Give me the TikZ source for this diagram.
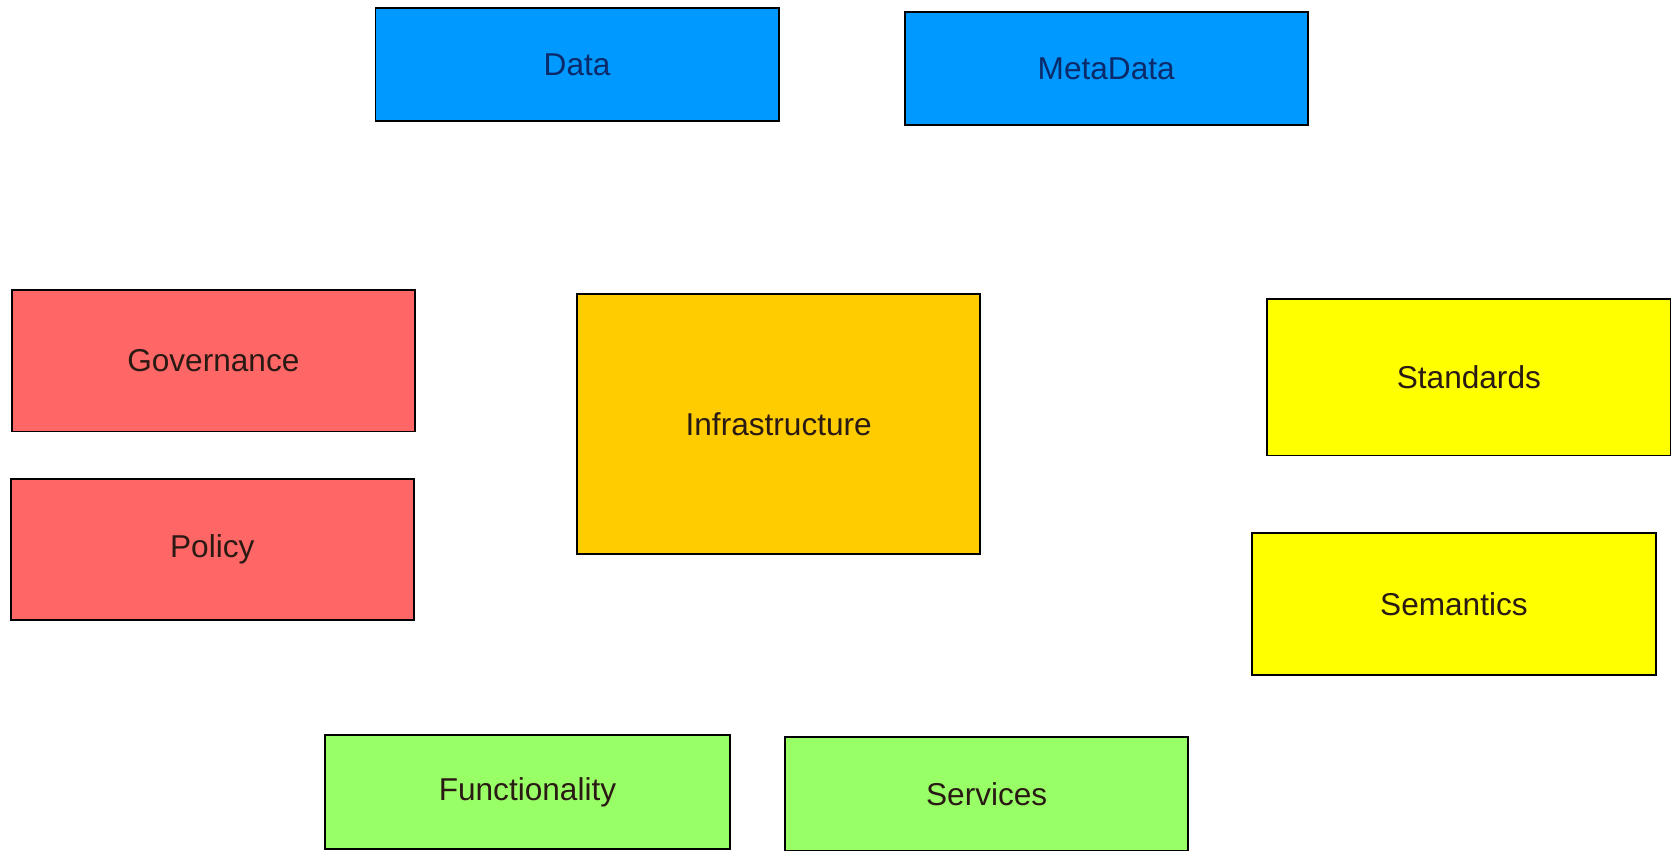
\documentclass[tikz,border=0pt]{standalone}
\usepackage{fontspec}
\setmainfont{Liberation Sans}
\definecolor{cblue}{HTML}{0099FF}
\definecolor{cred}{HTML}{FF6666}
\definecolor{corange}{HTML}{FFCC00}
\definecolor{cyellow}{HTML}{FFFF00}
\definecolor{cgreen}{HTML}{99FF66}
\definecolor{tdark}{HTML}{2A1A14}
\definecolor{tnavy}{HTML}{0A2A6A}
\tikzset{
  box/.style={draw=black, line width=0.96pt, rectangle, inner sep=0pt,
    minimum width=201.6pt, font=\fontsize{15.8}{18}\selectfont, text=tdark},
  bluebox/.style={box, fill=cblue, minimum height=56.5pt, text=tnavy},
  redbox/.style={box, fill=cred},
  orangebox/.style={box, fill=corange},
  yellowbox/.style={box, fill=cyellow},
  greenbox/.style={box, fill=cgreen, minimum height=57.1pt},
}
\begin{document}
\begin{tikzpicture}[x=0.53333pt, y=-0.53333pt]
\useasboundingbox (0,0) rectangle (1566.5,796.9);
\node[bluebox] (data) at (541,60.5) {Data};
\node[bluebox] (meta) at (1037,64.5) {MetaData};
\node[redbox, minimum height=70.9pt] (gov) at (200,338) {Governance};
\node[redbox, minimum height=70.4pt] (pol) at (199,515) {Policy};
\node[orangebox, minimum height=129.6pt] (infra) at (730,397.5) {Infrastructure};
\node[yellowbox, minimum height=78.4pt] (std) at (1377,353.5) {Standards};
\node[yellowbox, minimum height=70.9pt] (sem) at (1363,566.5) {Semantics};
\node[greenbox, minimum width=202.1pt] (func) at (494.5,742.5) {Functionality};
\node[greenbox] (serv) at (925,744.5) {Services};
\end{tikzpicture}
\end{document}
